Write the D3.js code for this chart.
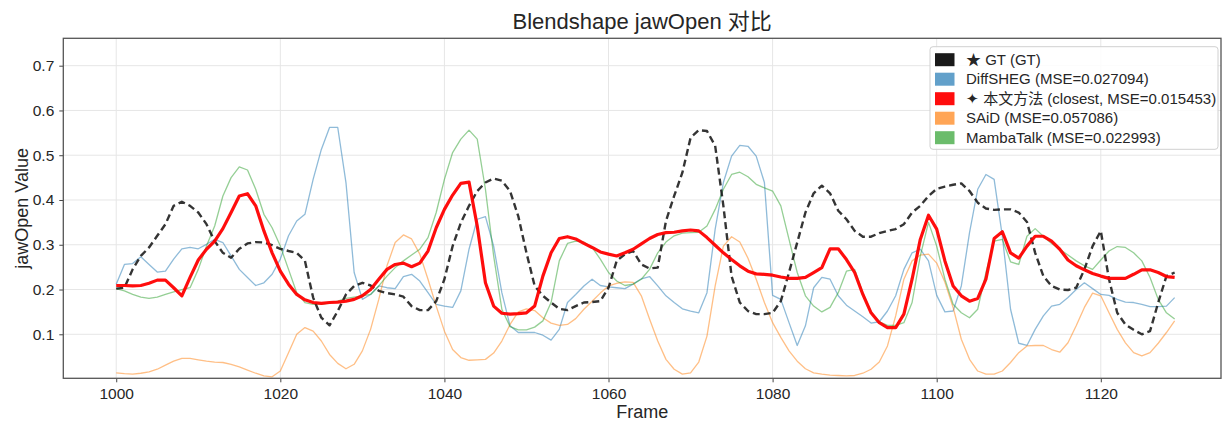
<!DOCTYPE html>
<html>
<head>
<meta charset="utf-8">
<script src="https://cdn.jsdelivr.net/npm/d3@7"></script>
<style>
    body { margin: 0; background: #fff; }
    text { font-family: "Liberation Sans", Arial, "Noto Sans CJK SC", sans-serif; fill: #262626; }
</style>
</head>
<body>
<svg id="canvas"></svg>
<script>
const startFrame = 1000;

const gtValues = [
    0.202, 0.204, 0.245, 0.275, 0.294, 0.320, 0.346, 0.387, 0.396, 0.387,
    0.372, 0.346, 0.308, 0.282, 0.271, 0.291, 0.303, 0.306, 0.305, 0.299,
    0.291, 0.286, 0.282, 0.264, 0.182, 0.137, 0.120, 0.152, 0.189, 0.208,
    0.215, 0.209, 0.197, 0.192, 0.189, 0.184, 0.163, 0.154, 0.154, 0.174,
    0.223, 0.297, 0.349, 0.387, 0.420, 0.439, 0.448, 0.443, 0.420, 0.364,
    0.282, 0.208, 0.186, 0.171, 0.157, 0.154, 0.163, 0.171, 0.172, 0.174,
    0.204, 0.264, 0.279, 0.286, 0.256, 0.247, 0.249, 0.353, 0.409, 0.461,
    0.539, 0.556, 0.554, 0.521, 0.387, 0.230, 0.171, 0.152, 0.145, 0.145,
    0.148, 0.174, 0.238, 0.305, 0.372, 0.415, 0.432, 0.415, 0.376, 0.357,
    0.331, 0.318, 0.318, 0.326, 0.331, 0.335, 0.346, 0.372, 0.387, 0.409,
    0.425, 0.430, 0.434, 0.437, 0.420, 0.394, 0.381, 0.378, 0.379, 0.379,
    0.372, 0.351, 0.282, 0.230, 0.208, 0.200, 0.199, 0.204, 0.245, 0.297,
    0.331, 0.223, 0.148, 0.122, 0.110, 0.100, 0.107, 0.171, 0.230, 0.238
];

const diffshegValues = [
    0.212, 0.256, 0.258, 0.273, 0.256, 0.239, 0.241, 0.268, 0.291, 0.294,
    0.291, 0.301, 0.312, 0.305, 0.275, 0.245, 0.227, 0.209, 0.215, 0.234,
    0.268, 0.320, 0.353, 0.368, 0.446, 0.513, 0.562, 0.562, 0.439, 0.238,
    0.178, 0.189, 0.208, 0.204, 0.202, 0.229, 0.234, 0.219, 0.193, 0.167,
    0.163, 0.160, 0.197, 0.290, 0.357, 0.363, 0.297, 0.193, 0.119, 0.104,
    0.104, 0.104, 0.098, 0.087, 0.111, 0.171, 0.189, 0.208, 0.223, 0.209,
    0.206, 0.204, 0.202, 0.212, 0.224, 0.229, 0.208, 0.186, 0.171, 0.157,
    0.152, 0.148, 0.193, 0.335, 0.439, 0.498, 0.522, 0.520, 0.498, 0.439,
    0.187, 0.178, 0.126, 0.075, 0.119, 0.204, 0.227, 0.223, 0.186, 0.165,
    0.152, 0.139, 0.125, 0.128, 0.152, 0.186, 0.245, 0.282, 0.290, 0.264,
    0.187, 0.150, 0.152, 0.208, 0.327, 0.424, 0.457, 0.446, 0.319, 0.156,
    0.080, 0.075, 0.111, 0.141, 0.163, 0.167, 0.182, 0.200, 0.215, 0.202,
    0.189, 0.187, 0.178, 0.172, 0.171, 0.167, 0.162, 0.162, 0.163, 0.182
];

const oursValues = [
    0.209, 0.209, 0.208, 0.209, 0.214, 0.221, 0.221, 0.204, 0.186, 0.227,
    0.266, 0.290, 0.308, 0.336, 0.372, 0.409, 0.414, 0.387, 0.331, 0.282,
    0.241, 0.212, 0.189, 0.177, 0.171, 0.169, 0.171, 0.172, 0.174, 0.178,
    0.186, 0.200, 0.223, 0.245, 0.256, 0.259, 0.251, 0.259, 0.286, 0.338,
    0.379, 0.411, 0.437, 0.440, 0.342, 0.215, 0.163, 0.147, 0.145, 0.146,
    0.148, 0.163, 0.230, 0.282, 0.314, 0.318, 0.313, 0.303, 0.294, 0.284,
    0.279, 0.275, 0.282, 0.290, 0.302, 0.314, 0.323, 0.327, 0.328, 0.331,
    0.333, 0.331, 0.316, 0.299, 0.282, 0.267, 0.253, 0.241, 0.235, 0.234,
    0.232, 0.228, 0.225, 0.225, 0.227, 0.238, 0.249, 0.291, 0.291, 0.267,
    0.238, 0.189, 0.148, 0.126, 0.115, 0.115, 0.145, 0.223, 0.312, 0.366,
    0.335, 0.264, 0.208, 0.186, 0.174, 0.180, 0.223, 0.314, 0.329, 0.282,
    0.270, 0.297, 0.319, 0.319, 0.308, 0.290, 0.266, 0.253, 0.244, 0.236,
    0.230, 0.225, 0.225, 0.225, 0.234, 0.244, 0.244, 0.238, 0.229, 0.227
];

const saidValues = [
    0.014, 0.012, 0.011, 0.013, 0.016, 0.022, 0.031, 0.040, 0.046, 0.046,
    0.043, 0.040, 0.038, 0.037, 0.033, 0.027, 0.020, 0.013, 0.007, 0.005,
    0.018, 0.059, 0.100, 0.115, 0.107, 0.085, 0.055, 0.035, 0.023, 0.033,
    0.063, 0.111, 0.178, 0.253, 0.305, 0.322, 0.313, 0.279, 0.223, 0.163,
    0.107, 0.066, 0.048, 0.042, 0.043, 0.044, 0.058, 0.085, 0.122, 0.150,
    0.157, 0.153, 0.137, 0.125, 0.120, 0.122, 0.135, 0.156, 0.174, 0.192,
    0.208, 0.214, 0.217, 0.216, 0.186, 0.134, 0.085, 0.044, 0.022, 0.011,
    0.014, 0.038, 0.096, 0.208, 0.297, 0.318, 0.306, 0.270, 0.223, 0.171,
    0.126, 0.093, 0.063, 0.040, 0.023, 0.014, 0.011, 0.009, 0.008, 0.007,
    0.008, 0.013, 0.022, 0.038, 0.074, 0.141, 0.223, 0.264, 0.277, 0.279,
    0.259, 0.216, 0.160, 0.089, 0.044, 0.018, 0.011, 0.011, 0.018, 0.037,
    0.059, 0.074, 0.075, 0.075, 0.066, 0.060, 0.081, 0.119, 0.160, 0.192,
    0.186, 0.148, 0.111, 0.081, 0.059, 0.052, 0.059, 0.080, 0.104, 0.130
];

const mambaValues = [
    0.202, 0.197, 0.189, 0.183, 0.180, 0.183, 0.189, 0.195, 0.200, 0.204,
    0.245, 0.297, 0.342, 0.409, 0.450, 0.474, 0.467, 0.424, 0.368, 0.338,
    0.297, 0.245, 0.193, 0.171, 0.167, 0.167, 0.170, 0.174, 0.180, 0.183,
    0.186, 0.189, 0.208, 0.230, 0.249, 0.264, 0.277, 0.290, 0.316, 0.372,
    0.446, 0.506, 0.536, 0.556, 0.536, 0.424, 0.275, 0.156, 0.117, 0.110,
    0.110, 0.116, 0.130, 0.171, 0.264, 0.303, 0.308, 0.306, 0.294, 0.268,
    0.238, 0.219, 0.209, 0.212, 0.223, 0.245, 0.282, 0.306, 0.320, 0.326,
    0.327, 0.328, 0.342, 0.379, 0.424, 0.457, 0.462, 0.452, 0.435, 0.427,
    0.420, 0.387, 0.312, 0.238, 0.186, 0.163, 0.150, 0.160, 0.193, 0.241,
    0.245, 0.193, 0.150, 0.128, 0.120, 0.120, 0.126, 0.171, 0.275, 0.350,
    0.297, 0.223, 0.167, 0.148, 0.137, 0.156, 0.238, 0.308, 0.312, 0.262,
    0.256, 0.319, 0.336, 0.319, 0.303, 0.290, 0.277, 0.264, 0.253, 0.245,
    0.266, 0.286, 0.296, 0.294, 0.282, 0.264, 0.227, 0.178, 0.148, 0.134
];

const xTicks = [1000, 1020, 1040, 1060, 1080, 1100, 1120];
const yTicks = [0.1, 0.2, 0.3, 0.4, 0.5, 0.6, 0.7];

const seriesNames = ["GT", "DiffSHEG", "Ours", "SAiD", "MambaTalk"];
const legendLabels = [
    "\u2605 GT (GT)",
    "DiffSHEG (MSE=0.027094)",
    "\u2726 \u672c\u6587\u65b9\u6cd5 (closest, MSE=0.015453)",
    "SAiD (MSE=0.057086)",
    "MambaTalk (MSE=0.022993)"
];

document.addEventListener("DOMContentLoaded", () => {
    const width = 1222, height = 422;
    const left = 63.3, right = 1221, top = 38.3, bottom = 378.3;

    const canvas = d3.select("#canvas")
        .attr("width", width)
        .attr("height", height);

    const x = d3.scaleLinear().domain([993.55, 1134.65]).range([left, right]);
    const y = d3.scaleLinear().domain([0.0017, 0.7612]).range([bottom, top]);

    // grid
    const grid = canvas.append("g");
    xTicks.forEach(t => {
        grid.append("line")
            .attr("x1", x(t)).attr("x2", x(t))
            .attr("y1", top).attr("y2", bottom)
            .style("stroke", "#e6e6e6").style("stroke-width", 1);
    });
    yTicks.forEach(t => {
        grid.append("line")
            .attr("x1", left).attr("x2", right)
            .attr("y1", y(t)).attr("y2", y(t))
            .style("stroke", "#e6e6e6").style("stroke-width", 1);
    });

    // axes
    const xAxis = canvas.append("g")
        .attr("transform", `translate(0,${bottom})`)
        .call(d3.axisBottom(x).tickValues(xTicks).tickSize(4).tickPadding(6).tickFormat(d3.format("d")));
    const yAxis = canvas.append("g")
        .attr("transform", `translate(${left},0)`)
        .call(d3.axisLeft(y).tickValues(yTicks).tickSize(4).tickPadding(5).tickFormat(d3.format(".1f")));
    [xAxis, yAxis].forEach(ax => {
        ax.select(".domain").remove();
        ax.selectAll(".tick line").style("stroke", "#444");
        ax.selectAll("text").style("font-size", "15.5px").style("fill", "#262626");
    });

    // lines
    const line = d3.line()
        .x((d, i) => x(startFrame + i))
        .y(d => y(d));

    const plot = canvas.append("g");
    drawLine(plot, diffshegValues, "#1f77b4", 1.3, 0.5, null);
    drawLine(plot, saidValues, "#ff7f0e", 1.3, 0.5, null);
    drawLine(plot, mambaValues, "#2ca02c", 1.3, 0.5, null);
    drawLine(plot, gtValues, "#111", 2.4, 0.85, "7,4");
    drawLine(plot, oursValues, "#ff0000", 3.2, 0.95, null);

    function drawLine(g, values, color, w, alpha, dash) {
        g.append("path")
            .datum(values)
            .attr("d", line)
            .style("fill", "none")
            .style("stroke", color)
            .style("stroke-width", w)
            .style("stroke-opacity", alpha)
            .style("stroke-linejoin", "round")
            .style("stroke-dasharray", dash);
    }

    // frame
    canvas.append("rect")
        .attr("x", left).attr("y", top)
        .attr("width", right - left).attr("height", bottom - top)
        .style("fill", "none")
        .style("stroke", "#555")
        .style("stroke-width", 1.3);

    // texts
    canvas.append("text")
        .attr("x", (left + right) / 2).attr("y", 29)
        .attr("text-anchor", "middle")
        .style("font-size", "22px")
        .text("Blendshape jawOpen \u5bf9\u6bd4");

    canvas.append("text")
        .attr("x", (left + right) / 2).attr("y", 418)
        .attr("text-anchor", "middle")
        .style("font-size", "18px")
        .text("Frame");

    canvas.append("text")
        .attr("transform", `translate(28,${(top + bottom) / 2}) rotate(-90)`)
        .attr("text-anchor", "middle")
        .style("font-size", "18px")
        .text("jawOpen Value");

    // legend
    const legendColors = ["#1a1a1a", "#62a0ca", "#ff0d0d", "#ffa556", "#6bbc6b"];
    const legend = canvas.append("g");
    legend.append("rect")
        .attr("x", 930).attr("y", 46.7)
        .attr("width", 288).attr("height", 102.6)
        .attr("rx", 3)
        .style("fill", "#fff").style("fill-opacity", 0.85)
        .style("stroke", "#d0d0d0");

    seriesNames.forEach((name, i) => {
        const cy = 59.7 + i * 19.5;
        legend.append("rect")
            .attr("x", 935).attr("y", cy - 6.5)
            .attr("width", 19.5).attr("height", 13)
            .style("fill", legendColors[i]);
        legend.append("text")
            .attr("x", 966).attr("y", cy + 5)
            .style("font-size", "15px")
            .text(legendLabels[i]);
    });
});
</script>
</body>
</html>
